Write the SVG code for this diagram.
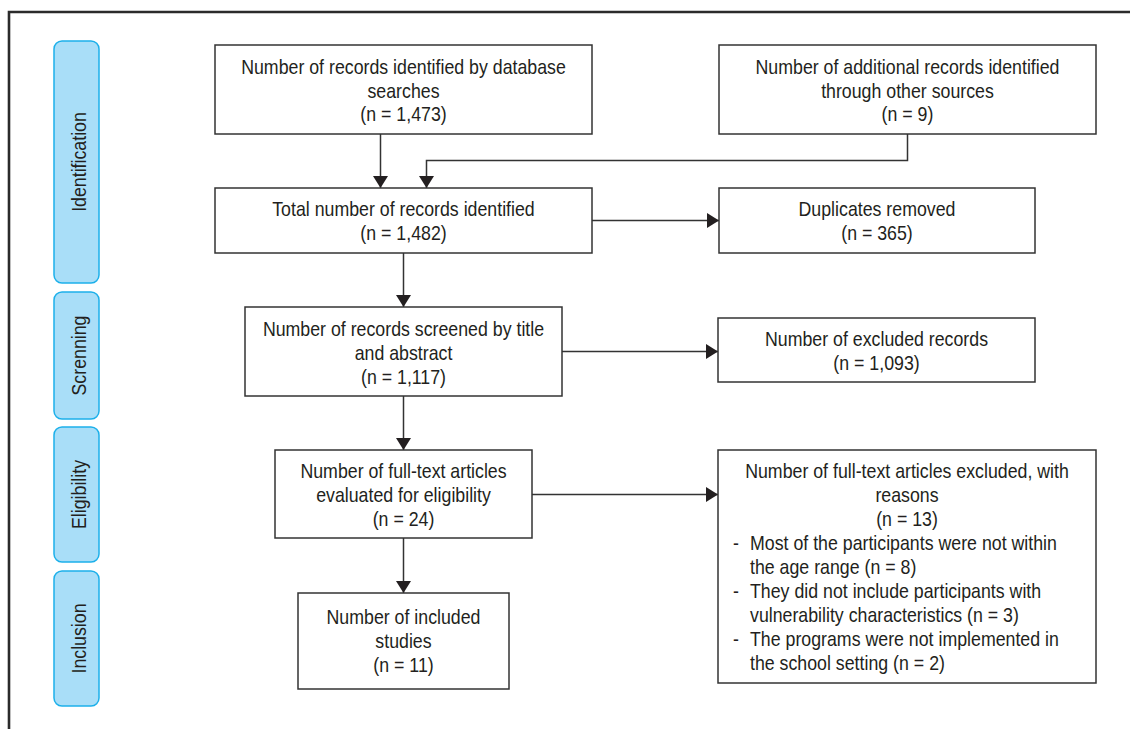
<svg xmlns="http://www.w3.org/2000/svg" width="1130" height="729" viewBox="0 0 1130 729">
<style>
.frame{fill:none;stroke:#2b2b2b;stroke-width:2.6}
.phase{fill:#a9def8;stroke:#1cb0ea;stroke-width:1.5}
.box{fill:#fff;stroke:#333;stroke-width:1.5}
.t{font-family:"Liberation Sans",Arial,sans-serif;font-size:21px;fill:#231f20}
.c{text-anchor:middle}
.ph{font-family:"Liberation Sans",Arial,sans-serif;font-size:21px;fill:#231f20;text-anchor:middle}
.ln{fill:none;stroke:#333;stroke-width:1.5}
</style>
<defs>
<marker id="ah" viewBox="0 0 12 15" refX="12" refY="7.5" markerWidth="12" markerHeight="15" markerUnits="userSpaceOnUse" orient="auto">
<path d="M0,0 L12,7.5 L0,15 Z" fill="#231f20"/>
</marker>
</defs>
<rect width="1130" height="729" fill="#fff"/>
<path class="frame" d="M9,729 V12 H1130"/>

<g id="phase-identification">
<rect class="phase" x="54" y="41" width="45" height="242" rx="8"/>
<text class="ph" transform="translate(86,162) rotate(-90) scale(0.846,1)" x="0" y="0">Identification</text>
</g>
<g id="phase-screening">
<rect class="phase" x="54" y="292" width="45" height="127" rx="8"/>
<text class="ph" transform="translate(86,355.5) rotate(-90) scale(0.846,1)" x="0" y="0">Screnning</text>
</g>
<g id="phase-eligibility">
<rect class="phase" x="54" y="427" width="45" height="135" rx="8"/>
<text class="ph" transform="translate(86,494.5) rotate(-90) scale(0.846,1)" x="0" y="0">Eligibility</text>
</g>
<g id="phase-inclusion">
<rect class="phase" x="54" y="571" width="45" height="135" rx="8"/>
<text class="ph" transform="translate(86,638.5) rotate(-90) scale(0.846,1)" x="0" y="0">Inclusion</text>
</g>

<g id="connectors">
<path class="ln" d="M380.5,134 V188" marker-end="url(#ah)"/>
<path class="ln" d="M907.5,134 V160.5 H426.5 V188" marker-end="url(#ah)"/>
<path class="ln" d="M592,220.5 H719" marker-end="url(#ah)"/>
<path class="ln" d="M403.5,253 V307" marker-end="url(#ah)"/>
<path class="ln" d="M562,351.5 H718" marker-end="url(#ah)"/>
<path class="ln" d="M403.5,396 V450" marker-end="url(#ah)"/>
<path class="ln" d="M532,494.5 H718" marker-end="url(#ah)"/>
<path class="ln" d="M403.5,538 V593" marker-end="url(#ah)"/>
</g>

<g id="node-database">
<rect class="box" x="215" y="45" width="377" height="89"/>
<text class="t c" transform="translate(403.5,0) scale(0.846,1)"><tspan x="0" y="74">Number of records identified by database</tspan><tspan x="0" y="98">searches</tspan><tspan x="0" y="121.5">(n = 1,473)</tspan></text>
</g>
<g id="node-other">
<rect class="box" x="719" y="45" width="377" height="89"/>
<text class="t c" transform="translate(907.5,0) scale(0.846,1)"><tspan x="0" y="74">Number of additional records identified</tspan><tspan x="0" y="98">through other sources</tspan><tspan x="0" y="121.5">(n = 9)</tspan></text>
</g>
<g id="node-total">
<rect class="box" x="215" y="188" width="377" height="65"/>
<text class="t c" transform="translate(403.5,0) scale(0.846,1)"><tspan x="0" y="216.5">Total number of records identified</tspan><tspan x="0" y="240.5">(n = 1,482)</tspan></text>
</g>
<g id="node-duplicates">
<rect class="box" x="719" y="188" width="316" height="65"/>
<text class="t c" transform="translate(877,0) scale(0.846,1)"><tspan x="0" y="216.5">Duplicates removed</tspan><tspan x="0" y="240.5">(n = 365)</tspan></text>
</g>
<g id="node-screened">
<rect class="box" x="245" y="307" width="317" height="89"/>
<text class="t c" transform="translate(403.5,0) scale(0.846,1)"><tspan x="0" y="336">Number of records screened by title</tspan><tspan x="0" y="360">and abstract</tspan><tspan x="0" y="384">(n = 1,117)</tspan></text>
</g>
<g id="node-excluded">
<rect class="box" x="718" y="318" width="317" height="64"/>
<text class="t c" transform="translate(876.5,0) scale(0.846,1)"><tspan x="0" y="346">Number of excluded records</tspan><tspan x="0" y="370">(n = 1,093)</tspan></text>
</g>
<g id="node-fulltext">
<rect class="box" x="275" y="450" width="257" height="88"/>
<text class="t c" transform="translate(403.5,0) scale(0.846,1)"><tspan x="0" y="478">Number of full-text articles</tspan><tspan x="0" y="502">evaluated for eligibility</tspan><tspan x="0" y="526">(n = 24)</tspan></text>
</g>
<g id="node-fulltext-excluded">
<rect class="box" x="718" y="450" width="378" height="233"/>
<text class="t c" transform="translate(907,0) scale(0.846,1)"><tspan x="0" y="478">Number of full-text articles excluded, with</tspan><tspan x="0" y="502">reasons</tspan><tspan x="0" y="526">(n = 13)</tspan></text>
<text class="t" transform="translate(733,0) scale(0.846,1)"><tspan x="0" y="550">-</tspan><tspan x="0" y="598">-</tspan><tspan x="0" y="646">-</tspan></text>
<text class="t" transform="translate(750,0) scale(0.846,1)"><tspan x="0" y="550">Most of the participants were not within</tspan><tspan x="0" y="574">the age range (n = 8)</tspan><tspan x="0" y="598">They did not include participants with</tspan><tspan x="0" y="622">vulnerability characteristics (n = 3)</tspan><tspan x="0" y="646">The programs were not implemented in</tspan><tspan x="0" y="670">the school setting (n = 2)</tspan></text>
</g>
<g id="node-included">
<rect class="box" x="298" y="593" width="211" height="96"/>
<text class="t c" transform="translate(403.5,0) scale(0.846,1)"><tspan x="0" y="624">Number of included</tspan><tspan x="0" y="648">studies</tspan><tspan x="0" y="672">(n = 11)</tspan></text>
</g>
</svg>
